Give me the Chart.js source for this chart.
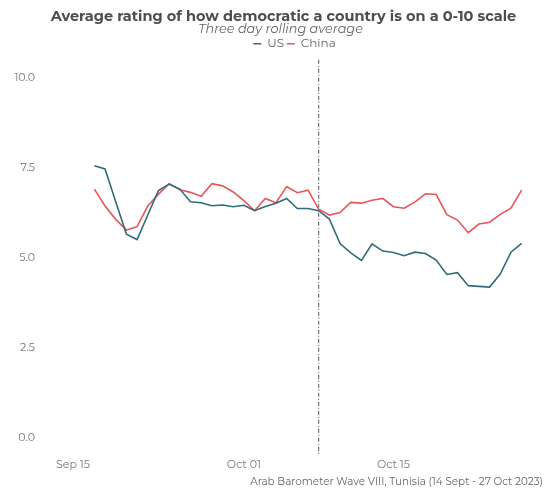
<!DOCTYPE html>
<html>
<head>
  <title>Democracy rating</title>
  <script src="https://cdn.jsdelivr.net/npm/chart.js"></script>
  <style>
    html, body { margin: 0; padding: 0; background: #fff; }
    canvas { display: block; }
  </style>
</head>
<body>
  <canvas id="chart" width="549" height="491"></canvas>

  <script>
    // survey days, Sep 17 - Oct 27 2023
    const dates = [
      "2023-09-17", "2023-09-18", "2023-09-19", "2023-09-20", "2023-09-21", "2023-09-22", "2023-09-23",
      "2023-09-24", "2023-09-25", "2023-09-26", "2023-09-27", "2023-09-28", "2023-09-29", "2023-09-30",
      "2023-10-01", "2023-10-02", "2023-10-03", "2023-10-04", "2023-10-05", "2023-10-06", "2023-10-07",
      "2023-10-08", "2023-10-09", "2023-10-10", "2023-10-11", "2023-10-12", "2023-10-13", "2023-10-14",
      "2023-10-15", "2023-10-16", "2023-10-17", "2023-10-18", "2023-10-19", "2023-10-20", "2023-10-21",
      "2023-10-22", "2023-10-23", "2023-10-24", "2023-10-25", "2023-10-26", "2023-10-27"
    ];
    const usValues = [
      7.56, 7.47, 6.56, 5.66, 5.51, 6.19, 6.87,
      7.05, 6.91, 6.56, 6.53, 6.45, 6.47, 6.42,
      6.46, 6.31, 6.43, 6.52, 6.65, 6.37, 6.37,
      6.31, 6.08, 5.40, 5.14, 4.93, 5.39, 5.19,
      5.15, 5.06, 5.16, 5.12, 4.94, 4.54, 4.59,
      4.23, 4.21, 4.19, 4.55, 5.16, 5.40
    ];
    const chinaValues = [
      6.91, 6.44, 6.07, 5.77, 5.87, 6.44, 6.77,
      7.06, 6.89, 6.82, 6.71, 7.06, 7.00, 6.83,
      6.59, 6.31, 6.65, 6.53, 6.98, 6.81, 6.88,
      6.35, 6.19, 6.26, 6.54, 6.52, 6.60, 6.65,
      6.42, 6.38, 6.55, 6.78, 6.76, 6.20, 6.05,
      5.70, 5.94, 5.99, 6.21, 6.38, 6.88
    ];
    const xTickDates = ["2023-09-15", "2023-10-01", "2023-10-15"];
    const xTickLabels = ["Sep 15", "Oct 01", "Oct 15"];
    const yTicks = [0, 2.5, 5, 7.5, 10];
    const markerDate = "2023-10-08";

    const FONT = "Montserrat, Inter, 'Open Sans', sans-serif";
    const dayMs = 86400000;
    const origin = Date.UTC(2023, 8, 15);
    const toDay = s => (Date.parse(s + "T00:00:00Z") - origin) / dayMs;

    const usData = dates.map((d, i) => ({ x: toDay(d), y: usValues[i] }));
    const chinaData = dates.map((d, i) => ({ x: toDay(d), y: chinaValues[i] }));

    // dash-dot vertical marker line
    const markerLine = {
      id: "markerLine",
      beforeDatasetsDraw(chart) {
        const { ctx, chartArea, scales } = chart;
        const x = scales.x.getPixelForValue(toDay(markerDate));
        ctx.save();
        ctx.strokeStyle = "#555";
        ctx.lineWidth = 1;
        ctx.setLineDash([4, 2, 1, 2]);
        ctx.beginPath();
        ctx.moveTo(x, chartArea.top);
        ctx.lineTo(x, chartArea.bottom);
        ctx.stroke();
        ctx.restore();
      }
    };

    // title block is centred a little right of the canvas centre, legend more so
    const headerShift = {
      id: "headerShift",
      afterLayout(chart) {
        chart.boxes.forEach(b => {
          if (b.position !== "top" || !b.options) return;
          if (b === chart.legend) b.left += 41;
          else if (b.options.font && b.options.font.style === "italic") b.left += 13;
          else if (b.options.text) b.left += 19;
        });
      }
    };

    new Chart(document.getElementById("chart"), {
      type: "line",
      data: {
        datasets: [
          { label: "US", data: usData, borderColor: "#2e6c7a", backgroundColor: "#2e6c7a",
            borderWidth: 1.6, pointRadius: 0, tension: 0 },
          { label: "China", data: chinaData, borderColor: "#e8555b", backgroundColor: "#e8555b",
            borderWidth: 1.6, pointRadius: 0, tension: 0 }
        ]
      },
      options: {
        responsive: false,
        animation: false,
        devicePixelRatio: 1,
        layout: { padding: { left: 5, right: 6, top: 0, bottom: 2.75 } },
        plugins: {
          title: {
            display: true,
            text: "Average rating of how democratic a country is on a 0-10 scale",
            color: "#4d4d4d",
            font: { family: FONT, size: 14.5, weight: "bold", lineHeight: 1.0 },
            padding: { top: 9, bottom: 0 }
          },
          subtitle: {
            display: true,
            text: "Three day rolling average",
            color: "#666",
            font: { family: FONT, size: 12.8, style: "italic", lineHeight: 1.0 },
            padding: { top: -1, bottom: 0 }
          },
          legend: {
            display: true,
            labels: {
              usePointStyle: true,
              pointStyle: "line",
              pointStyleWidth: 8,
              padding: 2.5,
              color: "#666",
              font: { family: FONT, size: 12 }
            }
          },
          tooltip: { enabled: false }
        },
        scales: {
          x: {
            type: "linear",
            min: 0,
            max: 44,
            grid: { display: false, drawTicks: false },
            border: { display: false },
            afterBuildTicks: s => { s.ticks = xTickDates.map(d => ({ value: toDay(d) })); },
            afterFit: s => { s.height = 32.25; },
            ticks: {
              color: "#777",
              font: { family: FONT, size: 11, lineHeight: 1.2 },
              padding: 2.4,
              maxRotation: 0,
              callback: (v) => xTickLabels[xTickDates.map(toDay).indexOf(v)] || ""
            },
            title: {
              display: true,
              align: "end",
              text: "Arab Barometer Wave VIII, Tunisia (14 Sept - 27 Oct 2023)",
              color: "#666",
              font: { family: FONT, size: 10.4, lineHeight: 1.2 },
              padding: { top: 4, bottom: 0 }
            }
          },
          y: {
            min: -0.5,
            max: 10.5,
            grid: { display: false, drawTicks: false },
            border: { display: false },
            afterBuildTicks: s => { s.ticks = yTicks.map(v => ({ value: v })); },
            // wide label gap should not push the plot area in from top/bottom
            afterFit: s => { s.width = 68; s.paddingTop = 0; s.paddingBottom = 0; },
            ticks: {
              color: "#777",
              font: { family: FONT, size: 11 },
              padding: 38,
              callback: v => v.toFixed(1)
            }
          }
        }
      },
      plugins: [markerLine, headerShift]
    });
  </script>
</body>
</html>
